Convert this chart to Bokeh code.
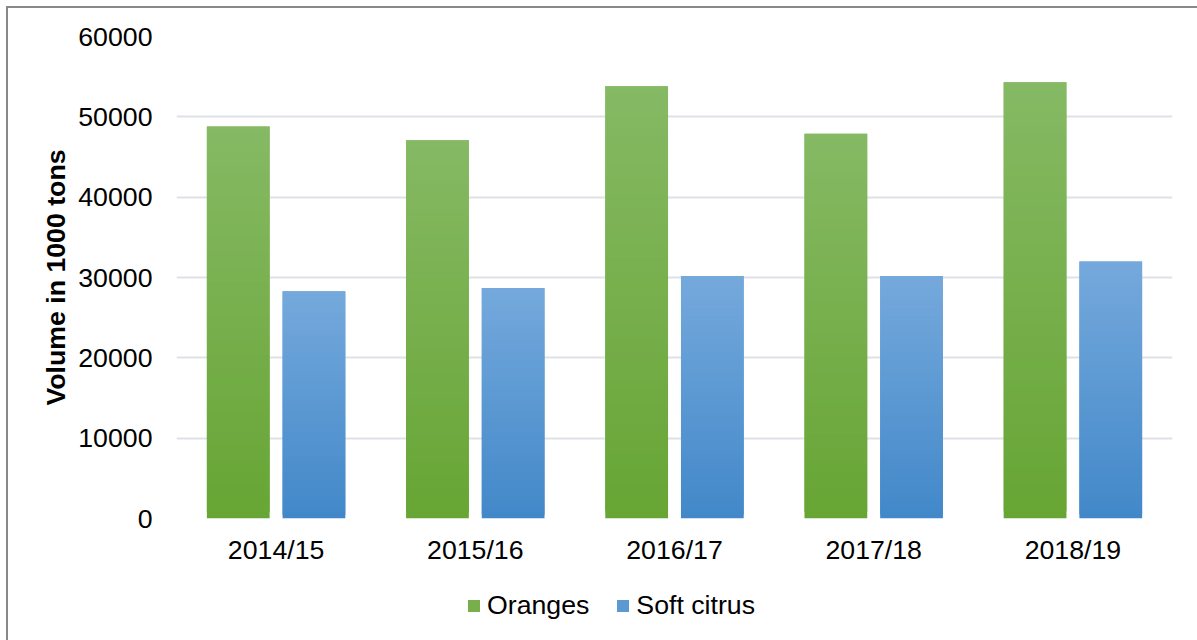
from bokeh.plotting import figure
from bokeh.layouts import column
from bokeh.models import ColumnDataSource, FactorRange, Range1d, FixedTicker, Legend, LegendItem
from bokeh.transform import dodge
from bokeh.embed import file_html
from bokeh.resources import INLINE

# ---- data ----
categories = ["2014/15", "2015/16", "2016/17", "2017/18", "2018/19"]
oranges = [48800, 47100, 53800, 47900, 54300]
soft_citrus = [28300, 28700, 30200, 30200, 32000]
series_names = ["Oranges", "Soft citrus"]
y_ticks = [0, 10000, 20000, 30000, 40000, 50000, 60000]

# ---- style ----
FONT = "Liberation Sans"
FS = "26.7px"
green_top, green_bot = (134, 185, 100), (103, 165, 52)
blue_top, blue_bot = (117, 169, 220), (66, 136, 201)
N_BANDS = 60


def hexc(c):
    return "#%02x%02x%02x" % tuple(int(round(v)) for v in c)


def gradient_source(values, c_top, c_bot):
    xs, bottoms, tops, colors = [], [], [], []
    for k in range(N_BANDS):
        t = (k + 0.5) / N_BANDS
        col = tuple(c_bot[i] + (c_top[i] - c_bot[i]) * t for i in range(3))
        for cat, v in zip(categories, values):
            xs.append(cat)
            bottoms.append(v * k / N_BANDS)
            tops.append(v * min(k + 2, N_BANDS) / N_BANDS)
            colors.append(hexc(col))
    return ColumnDataSource(dict(x=xs, bottom=bottoms, top=tops, color=colors))


p = figure(
    x_range=FactorRange(*categories, range_padding=0),
    y_range=Range1d(0, 60000),
    frame_width=996, frame_height=482,
    min_border_left=168, min_border_right=25, min_border_top=28, min_border_bottom=70,
    output_backend="svg", toolbar_location=None,
    background_fill_color="white", border_fill_color="white",
)
p.outline_line_color = None

src_o = gradient_source(oranges, green_top, green_bot)
src_s = gradient_source(soft_citrus, blue_top, blue_bot)

r_o = p.vbar(x=dodge("x", -0.19, range=p.x_range), bottom="bottom", top="top", width=0.315,
             source=src_o, fill_color="color", line_color=None)
r_s = p.vbar(x=dodge("x", 0.19, range=p.x_range), bottom="bottom", top="top", width=0.315,
             source=src_s, fill_color="color", line_color=None)

# axes
p.yaxis.ticker = FixedTicker(ticks=y_ticks)
p.yaxis.axis_label = "Volume in 1000 tons"
p.yaxis.axis_label_text_font = FONT
p.yaxis.axis_label_text_font_style = "bold"
p.yaxis.axis_label_text_font_size = FS
p.yaxis.axis_label_text_color = "#000000"
p.yaxis.axis_label_standoff = 4
for ax in (p.xaxis[0], p.yaxis[0]):
    ax.axis_line_color = None
    ax.major_tick_line_color = None
    ax.minor_tick_line_color = None
    ax.major_tick_in = 0
    ax.major_tick_out = 0
    ax.minor_tick_in = 0
    ax.minor_tick_out = 0
    ax.major_label_text_font = FONT
    ax.major_label_text_font_size = FS
    ax.major_label_text_color = "#000000"
p.yaxis.major_label_standoff = 24
p.xaxis.major_label_standoff = 16

p.xgrid.grid_line_color = None
p.ygrid.grid_line_color = "#dde2e8"
p.ygrid.grid_line_width = 2
p.ygrid.ticker = FixedTicker(ticks=y_ticks)

# ---- legend strip below the chart ----
lf = figure(
    width=1189, height=52,
    x_range=Range1d(0, 1), y_range=Range1d(0, 1),
    x_axis_location=None, y_axis_location=None,
    min_border=0, output_backend="svg", toolbar_location=None,
    background_fill_color="white", border_fill_color="white",
)
lf.outline_line_color = None
lf.xgrid.grid_line_color = None
lf.ygrid.grid_line_color = None
# legend proxies: one zero-height bar each, outside the visible range
proxy = ColumnDataSource(dict(x=[-10], y=[0]))
g_o = lf.vbar(x="x", top="y", bottom="y", width=0.01, source=proxy,
              fill_color=hexc([(a + b) / 2 for a, b in zip(green_top, green_bot)]), line_color=None)
g_s = lf.vbar(x="x", top="y", bottom="y", width=0.01, source=proxy,
              fill_color=hexc([(a + b) / 2 for a, b in zip(blue_top, blue_bot)]), line_color=None)

legend = Legend(
    items=[LegendItem(label=series_names[0], renderers=[g_o]),
           LegendItem(label=series_names[1], renderers=[g_s])],
    orientation="horizontal", location=(290, 19),
    label_text_font=FONT, label_text_font_size=FS, label_text_color="#000000",
    glyph_width=15, glyph_height=15, label_standoff=6, spacing=26,
    padding=0, margin=0, border_line_color=None, background_fill_alpha=0,
)
lf.add_layout(legend, "center")

layout = column(p, lf, spacing=0,
                styles={"margin-left": "8px", "margin-top": "8px", "outline": "2px solid #888888"})

open("out.html", "w").write(file_html(layout, INLINE))
